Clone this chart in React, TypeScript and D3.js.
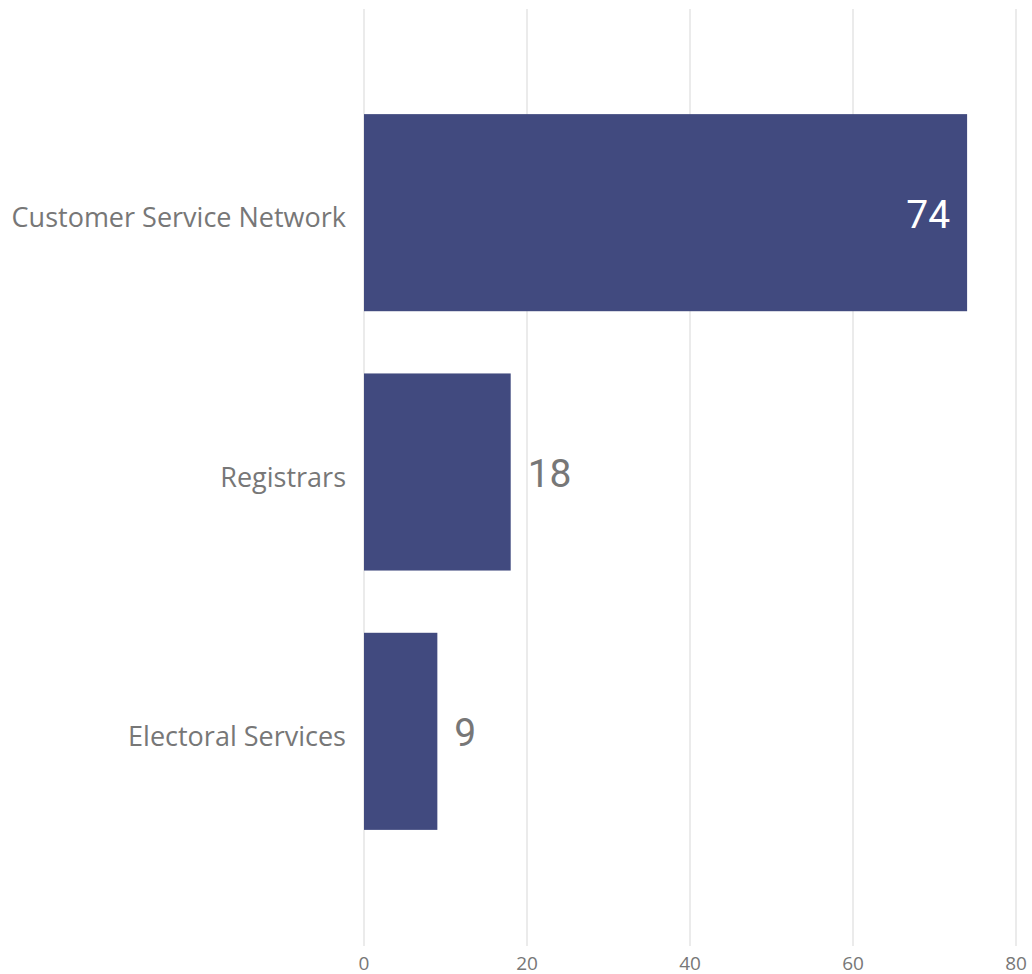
import React from "react";
import * as d3 from "d3";

const categories = ["Customer Service Network", "Registrars", "Electoral Services"];
const values = [74, 18, 9];
const xTicks = [0, 20, 40, 60, 80];

export default function App() {
  const width = 1032;
  const height = 974;
  const x = d3.scaleLinear().domain([0, 80]).range([364, 1016]);
  const y = d3.scaleBand<string>().domain(categories).range([83, 861]).paddingInner(0.24).paddingOuter(0.12);
  const barColor = "#414a7f";
  const gray = "#777777";
  return (
    <svg width={width} height={height} style={{ position: "absolute", left: 0, top: 0, background: "#fff" }}>
      {xTicks.map((t) => (
        <g key={t}>
          <line x1={x(t)} x2={x(t)} y1={9} y2={946} stroke="#ebebeb" strokeWidth={2} />
          <text x={x(t)} y={970} textAnchor="middle" fontFamily="'Open Sans', 'Noto Sans', sans-serif" fontSize={19} fill={gray}>
            {t}
          </text>
        </g>
      ))}
      {categories.map((c, i) => {
        const y0 = y(c) as number;
        const bw = y.bandwidth();
        const xe = x(values[i]);
        const inside = xe - x(0) > 150;
        return (
          <g key={c}>
            <rect x={x(0)} y={y0} width={xe - x(0)} height={bw} fill={barColor} />
            <text x={346} y={y0 + bw / 2 + 14.5} textAnchor="end" fontFamily="'Open Sans', 'Noto Sans', sans-serif" fontSize={27} fill={gray}>
              {c}
            </text>
            <text
              x={inside ? xe - 17 : xe + 17}
              y={y0 + bw / 2 + 15}
              textAnchor={inside ? "end" : "start"}
              fontFamily="Roboto, 'Noto Sans', sans-serif"
              fontSize={39}
              fill={inside ? "#ffffff" : gray}
            >
              {values[i]}
            </text>
          </g>
        );
      })}
    </svg>
  );
}
